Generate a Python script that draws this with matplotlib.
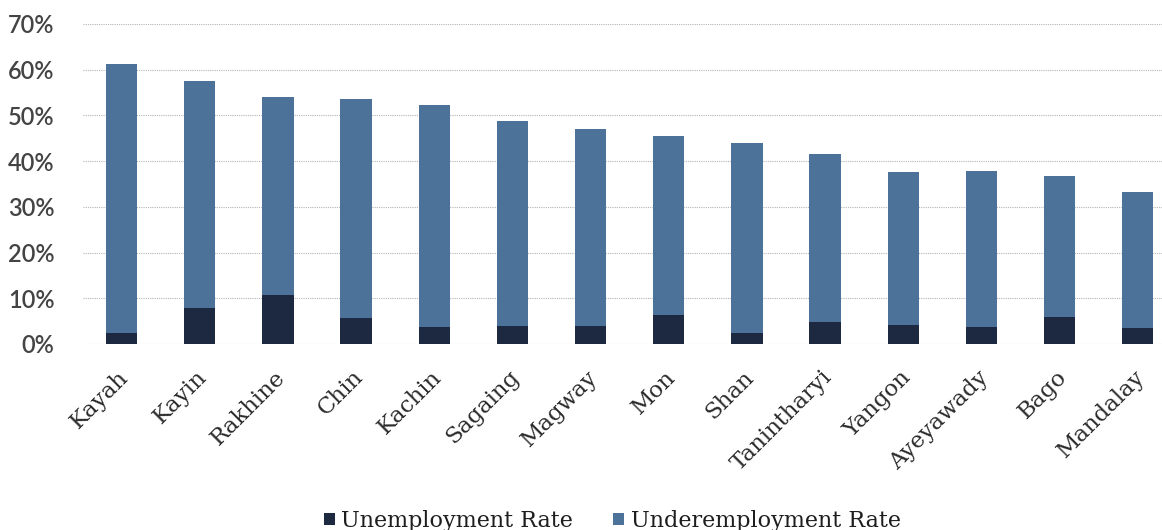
import numpy as np
import matplotlib.pyplot as plt
from matplotlib.transforms import ScaledTranslation

# Regional labour underutilisation (percent of labour force)
regions = ['Kayah', 'Kayin', 'Rakhine', 'Chin', 'Kachin', 'Sagaing', 'Magway',
           'Mon', 'Shan', 'Tanintharyi', 'Yangon', 'Ayeyawady', 'Bago', 'Mandalay']
unemployment = [2.4, 7.9, 10.7, 5.6, 3.7, 3.9, 3.9, 6.4, 2.3, 4.8, 4.2, 3.8, 5.9, 3.5]
underemployment = [58.9, 49.5, 43.3, 47.9, 48.6, 44.8, 43.2, 39.1, 41.6, 36.8, 33.5, 34.1, 30.9, 29.8]
yticks = [0, 10, 20, 30, 40, 50, 60, 70]

c_unemp = '#1d2841'
c_under = '#4d7299'

fig = plt.figure(figsize=(11.62, 5.30), dpi=100)
ax = fig.add_axes([0.071, 0.351, 0.929, 0.604])

x = np.arange(len(regions))
w = 0.4
ax.bar(x, unemployment, w, color=c_unemp, label='Unemployment Rate', zorder=3)
ax.bar(x, underemployment, w, bottom=unemployment, color=c_under,
       label='Underemployment Rate', zorder=3)

ax.set_xlim(-0.5, 13.31)
ax.set_ylim(0, 70)
ax.set_yticks(yticks)
ax.set_yticklabels([f'{v}%' for v in yticks], family='Lato', fontsize=17,
                   fontweight='semibold', color='#444444')
ax.set_xticks(x)
ax.set_xticklabels(regions, rotation=45, ha='right', rotation_mode='anchor',
                   family='DejaVu Serif', fontsize=16.5, color='#2a2a2a')
ax.tick_params(length=0)
ax.tick_params(axis='y', pad=20)
ax.tick_params(axis='x', pad=16)

# nudge the slanted region names a little to the left
shift = ScaledTranslation(-0.04, 0, fig.dpi_scale_trans)
for lbl in ax.get_xticklabels():
    lbl.set_transform(lbl.get_transform() + shift)

# light dotted gridlines
ax.yaxis.grid(True, color='#b5b5b5', linestyle=(0, (1, 1)), linewidth=0.8, zorder=0)
for s in ax.spines.values():
    s.set_visible(False)

leg = fig.legend(loc='center', bbox_to_anchor=(0.527, 0.017), ncol=2, frameon=False,
                 prop={'family': 'DejaVu Serif', 'size': 16}, handlelength=0.5,
                 handleheight=0.5, handletextpad=0.3, columnspacing=1.8)
for t in leg.get_texts():
    t.set_color('#1e1e1e')

fig.savefig('out.png', dpi=100)
